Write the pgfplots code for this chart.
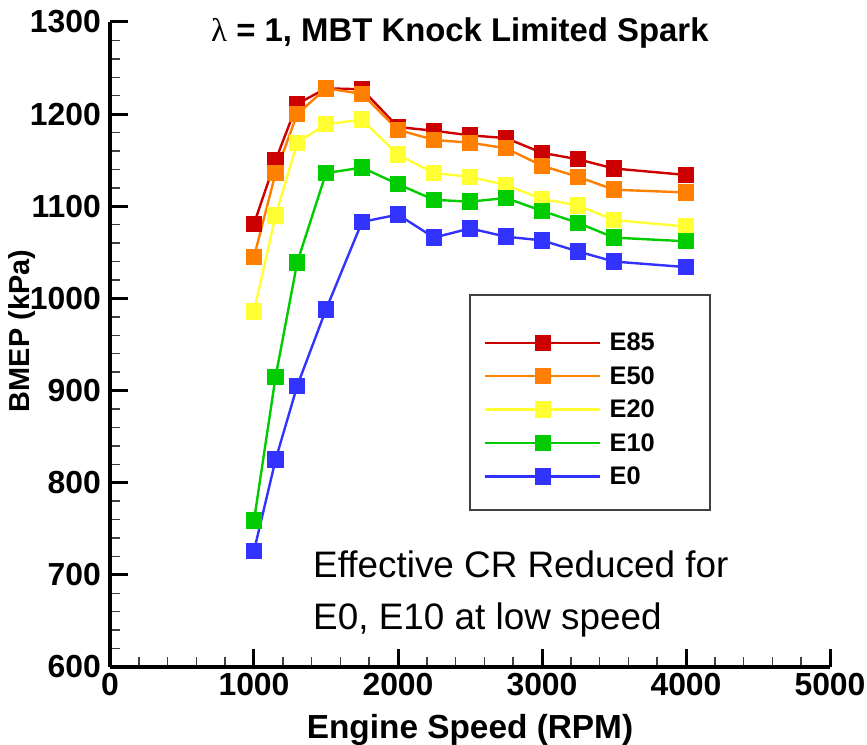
\documentclass[border=0pt]{standalone}
\usepackage{fontspec}
\setmainfont{Liberation Sans}
\newfontfamily\symfont{Liberation Serif}
\usepackage{pgfplots}
\pgfplotsset{compat=1.18}
\definecolor{cEe}{HTML}{CC0000}
\definecolor{cEf}{HTML}{FF8000}
\definecolor{cEt}{HTML}{FFFF33}
\definecolor{cEo}{HTML}{00CC00}
\definecolor{cEz}{HTML}{3333FF}
\begin{document}
\begin{tikzpicture}
\path[use as bounding box] (-110bp,-78bp) rectangle (757bp,667bp);
\begin{axis}[
  at={(0,0)}, anchor=south west,
  scale only axis, width=720bp, height=645bp,
  xmin=0, xmax=5000, ymin=600, ymax=1300,
  axis x line=bottom, axis y line=left,
  axis line style={-, line width=4bp, black},
  xtick={0,1000,...,5000}, ytick={600,700,...,1300},
  minor x tick num=4, minor y tick num=4,
  tick align=inside,
  major tick length=18bp, minor tick length=10bp,
  major tick style={line width=3bp, black},
  minor tick style={line width=1.5bp, black!75},
  tick label style={font=\fontsize{32}{32}\selectfont\bfseries, inner sep=0pt},
  /pgf/number format/assume math mode=true,
  /pgf/number format/set thousands separator={},
  yticklabel style={xshift=-9bp},
  xticklabel style={yshift=-6bp},
  xlabel={Engine Speed (RPM)},
  xlabel style={at={(axis description cs:0.5,-0.1101)}, anchor=base, font=\fontsize{33.5}{33.5}\selectfont\bfseries, inner sep=0pt},
  ylabel={BMEP (kPa)},
  ylabel style={at={(axis description cs:-0.1222,0.521)}, anchor=center, font=\fontsize{29}{29}\selectfont\bfseries, inner sep=0pt},
  clip=false,
  every axis plot/.append style={line width=2.4bp, mark=square*, mark size=7bp, mark options={draw=black!85, line width=1bp, solid}},
  legend style={draw=none, fill=none, at={(axis description cs:0.5194,0.5178)}, anchor=north west, inner sep=0pt, row sep=14.2bp, column sep=8bp, font=\fontsize{25.5}{25.5}\selectfont\bfseries, nodes={inner sep=0pt}},
  legend cell align=left,
  legend image code/.code={\draw[mark repeat=2,mark phase=2,#1] plot coordinates {(0bp,0bp) (57.5bp,0bp) (115bp,0bp)};},
]
\addplot[color=cEe, mark options={fill=cEe}] coordinates {(1000,1081) (1150,1150) (1300,1211) (1500,1228) (1750,1227) (2000,1186) (2250,1182) (2500,1177) (2750,1174) (3000,1158) (3250,1151) (3500,1141) (4000,1134)};
\addlegendentry{E85}
\addplot[color=cEf, mark options={fill=cEf}] coordinates {(1000,1045) (1150,1136) (1300,1200) (1500,1228) (1750,1222) (2000,1183) (2250,1172) (2500,1169) (2750,1163) (3000,1144) (3250,1132) (3500,1118) (4000,1115)};
\addlegendentry{E50}
\addplot[color=cEt, mark options={fill=cEt}] coordinates {(1000,986) (1150,1090) (1300,1169) (1500,1189) (1750,1194) (2000,1156) (2250,1136) (2500,1132) (2750,1123) (3000,1108) (3250,1101) (3500,1085) (4000,1078)};
\addlegendentry{E20}
\addplot[color=cEo, mark options={fill=cEo}] coordinates {(1000,759) (1150,915) (1300,1039) (1500,1136) (1750,1142) (2000,1124) (2250,1107) (2500,1105) (2750,1109) (3000,1095) (3250,1082) (3500,1066) (4000,1062)};
\addlegendentry{E10}
\addplot[color=cEz, mark options={fill=cEz}] coordinates {(1000,726) (1150,825) (1300,905) (1500,988) (1750,1083) (2000,1091) (2250,1066) (2500,1076) (2750,1067) (3000,1063) (3250,1051) (3500,1040) (4000,1034)};
\addlegendentry{E0}
\draw[black!75, line width=1.2bp] (axis description cs:0.5,0.5767) rectangle (axis description cs:0.8333,0.2434);
\node[anchor=base, font=\fontsize{33}{33}\selectfont\bfseries, inner sep=0pt] at (axis description cs:0.486,0.969) {{\symfont\mdseries λ} = 1, MBT Knock Limited Spark};
\node[anchor=base west, font=\fontsize{37}{37}\selectfont, inner sep=0pt] at (axis description cs:0.282,0.138) {Effective CR Reduced for};
\node[anchor=base west, font=\fontsize{37}{37}\selectfont, inner sep=0pt] at (axis description cs:0.282,0.0574) {E0, E10 at low speed};
\end{axis}
\end{tikzpicture}
\end{document}
